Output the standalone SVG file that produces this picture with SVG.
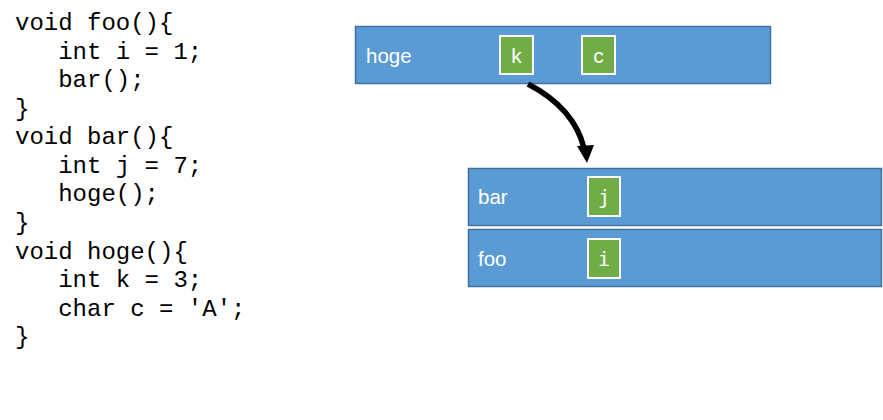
<svg xmlns="http://www.w3.org/2000/svg" width="883" height="420" viewBox="0 0 883 420">
<style>
.code{font-family:"Liberation Mono","Courier New",monospace;font-size:24px;fill:#000}
.frame{fill:#5B9BD5;stroke:#41719C;stroke-width:1.5}
.lbl{font-family:"Liberation Sans",Arial,sans-serif;font-size:20.5px;fill:#fff}
.var{fill:#70AD47;stroke:#fff;stroke-width:2}
.vt{font-family:"Liberation Sans",Arial,sans-serif;font-size:21px;fill:#fff;text-anchor:middle}
.vm{font-family:"DejaVu Sans Mono",monospace;font-size:20px;fill:#fff;text-anchor:middle}
</style>
<rect width="883" height="420" fill="#fff"/>
<g id="code" class="code">
<text x="15" y="30" xml:space="preserve">void foo(){</text>
<text x="15" y="59" xml:space="preserve">   int i = 1;</text>
<text x="15" y="87" xml:space="preserve">   bar();</text>
<text x="15" y="116" xml:space="preserve">}</text>
<text x="15" y="144" xml:space="preserve">void bar(){</text>
<text x="15" y="173" xml:space="preserve">   int j = 7;</text>
<text x="15" y="201" xml:space="preserve">   hoge();</text>
<text x="15" y="230" xml:space="preserve">}</text>
<text x="15" y="259" xml:space="preserve">void hoge(){</text>
<text x="15" y="287" xml:space="preserve">   int k = 3;</text>
<text x="15" y="316" xml:space="preserve">   char c = 'A';</text>
<text x="15" y="344" xml:space="preserve">}</text>
</g>
<g id="hoge">
<rect class="frame" x="355.5" y="26.5" width="415" height="57"/>
<text class="lbl" x="366" y="63">hoge</text>
<rect class="var" x="500" y="36" width="33" height="38"/>
<text class="vt" x="516.5" y="63">k</text>
<rect class="var" x="582" y="36" width="33" height="38"/>
<text class="vt" x="598.5" y="63">c</text>
</g>
<g id="bar">
<rect class="frame" x="468.5" y="168.5" width="413" height="57"/>
<text class="lbl" x="478" y="204">bar</text>
<rect class="var" x="588" y="177" width="32" height="39"/>
<text class="vm" x="604" y="204">j</text>
</g>
<g id="foo">
<rect class="frame" x="468.5" y="229.5" width="413" height="57"/>
<text class="lbl" x="478" y="266">foo</text>
<rect class="var" x="588" y="239" width="32" height="39"/>
<text class="vm" x="604" y="266">i</text>
</g>
<g id="connectors">
<path d="M528,84 Q574,108 584,148" fill="none" stroke="#000" stroke-width="5.5"/>
<polygon points="577,146 594,145 587,163" fill="#000"/>
</g>
</svg>
